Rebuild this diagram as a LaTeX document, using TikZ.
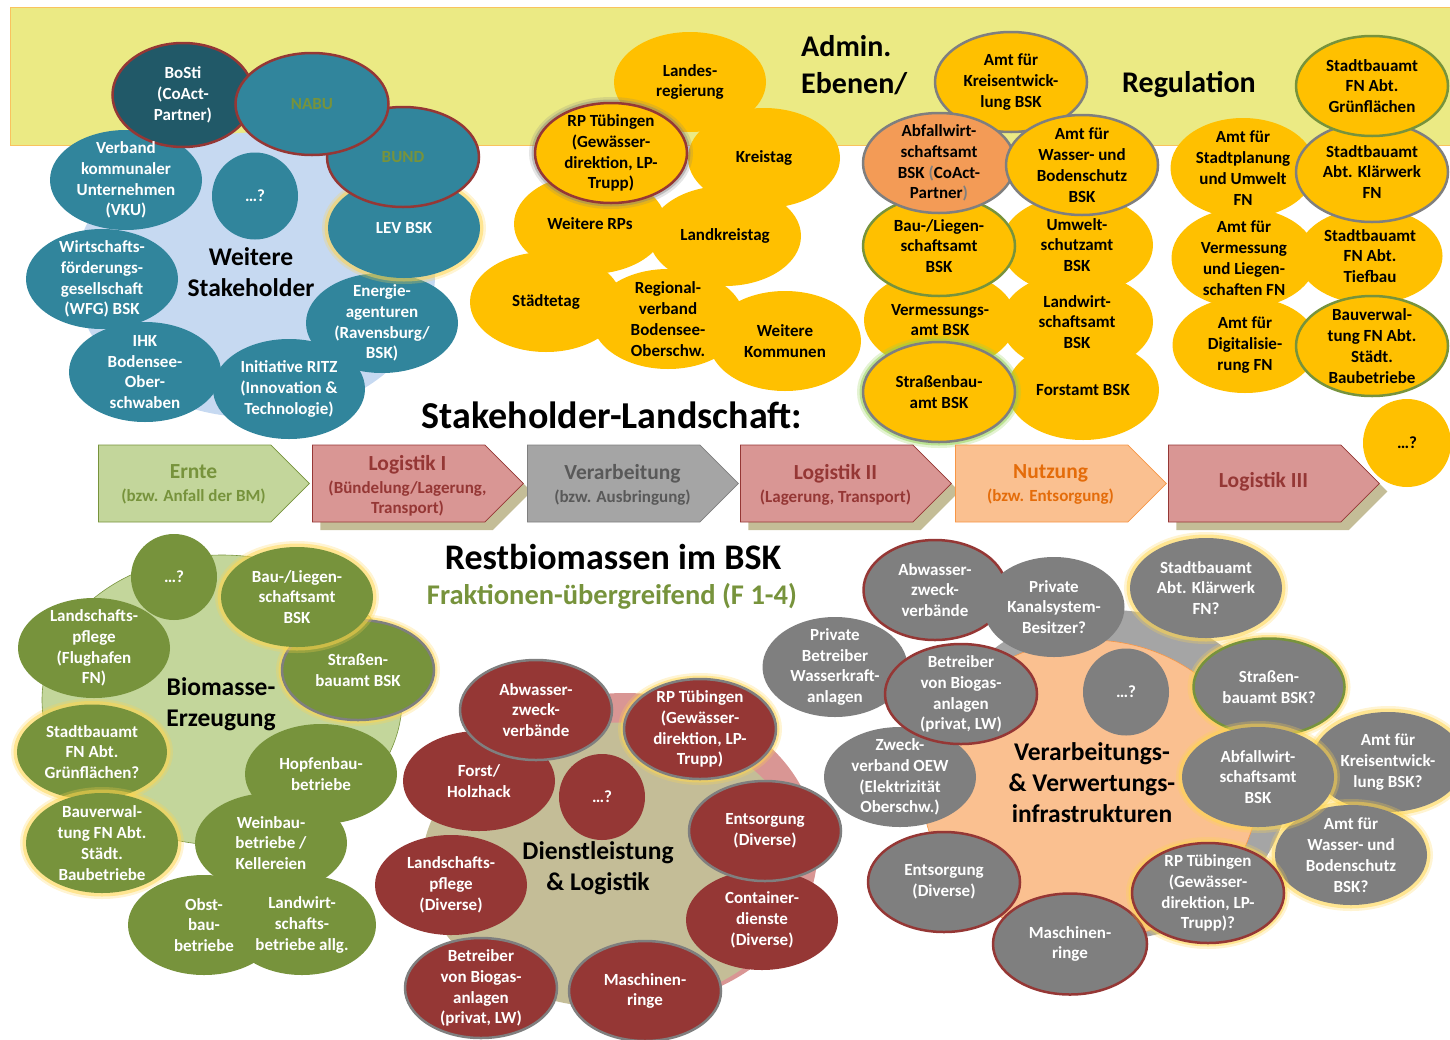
\documentclass[tikz,border=0pt]{standalone}
\usepackage{fontspec}
\setmainfont{Carlito}
\usetikzlibrary{shapes.geometric,shapes.symbols,shadows}

\definecolor{bandyel}{HTML}{EBEA84}
\definecolor{bandline}{HTML}{F9C35E}
\definecolor{tealf}{HTML}{31859C}
\definecolor{tealdk}{HTML}{215968}
\definecolor{redbd}{HTML}{953735}
\definecolor{goldf}{HTML}{FFC000}
\definecolor{orangef}{HTML}{F39B56}
\definecolor{olive}{HTML}{77933C}
\definecolor{lgreen}{HTML}{C3D69B}
\definecolor{grayf}{HTML}{7F7F7F}
\definecolor{lgray}{HTML}{A5A5A5}
\definecolor{lblue}{HTML}{C6D9F1}
\definecolor{tanf}{HTML}{C4BD97}
\definecolor{pinkf}{HTML}{D99694}
\definecolor{lorange}{HTML}{FAC090}
\definecolor{orangebd}{HTML}{F79646}
\definecolor{darkorange}{HTML}{E46C0A}
\definecolor{dgray}{HTML}{595959}
\definecolor{glowy}{HTML}{FFD54F}
\definecolor{glowg}{HTML}{92D050}

\pgfdeclarelayer{txt}
\pgfsetlayers{main,txt}

\newcommand{\bubfont}{\fontsize{17}{20.8}\selectfont\bfseries}
\newcommand{\chhd}[1]{{\fontsize{21.5}{24}\selectfont #1}}
% Blase: Ellipse + Text darueber
\newcommand{\bub}[5]{%
  \node[#1] (#2) at (#3) {};
  \begin{pgfonlayer}{txt}
    \node[#4] (#2t) at (#2.center) {#5};
  \end{pgfonlayer}
}

\tikzset{
  bubble/.style={ellipse, minimum width=152pt, minimum height=100pt, inner sep=0pt},
  bsz/.style 2 args={minimum width=#1pt, minimum height=#2pt},
  tealbub/.style={bubble, fill=tealf},
  goldbub/.style={bubble, fill=goldf},
  greenbub/.style={bubble, fill=olive},
  redbub/.style={bubble, fill=redbd},
  graybub/.style={bubble, fill=grayf},
  rbd/.style={draw=redbd, line width=2.5pt},
  gbd/.style={draw=grayf, line width=2.5pt},
  obd/.style={draw=olive, line width=2.5pt},
  glowyl/.style={preaction={draw=glowy, line width=12pt, draw opacity=.25},
                 preaction={draw=glowy, line width=7pt, draw opacity=.5}},
  glowgn/.style={preaction={draw=glowg, line width=12pt, draw opacity=.25},
                 preaction={draw=glowg, line width=7pt, draw opacity=.5}},
  glowgr/.style={preaction={draw=grayf, line width=12pt, draw opacity=.2},
                 preaction={draw=grayf, line width=7pt, draw opacity=.4}},
  bt/.style={align=center, inner sep=0pt, font=\bubfont},
  wt/.style={bt, text=white},
  ot/.style={bt, text=olive},
  clustertxt/.style={align=center, inner sep=0pt, font=\fontsize{25.5}{31}\selectfont\bfseries},
  headtxt/.style={inner sep=0pt, font=\fontsize{30}{36}\selectfont\bfseries},
  titletxt/.style={inner sep=0pt, font=\fontsize{36}{42}\selectfont\bfseries},
  chev/.style={signal, signal to=east, signal pointer angle=90, minimum width=211pt,
               minimum height=77pt, inner sep=0pt, line width=0.8pt, anchor=west},
  chsh/.style={drop shadow={shadow xshift=8pt, shadow yshift=-8pt, fill=tanf, opacity=1}},
  chtxt/.style={align=center, inner sep=0pt, font=\fontsize{17}{20}\selectfont\bfseries},
}

\begin{document}
\begin{tikzpicture}[x=1pt, y=-1pt]
\useasboundingbox (0,0) rectangle (1450,1039);

% Band Admin./Regulation
\draw[bandline, fill=bandyel, line width=1pt] (10,7) rectangle (1460,145);
\node[headtxt, anchor=west] (admin) at (801,46) {Admin.};
\node[headtxt, anchor=west] (ebenen) at (801,84) {Ebenen/};
\node[headtxt, anchor=west] (regul) at (1122,84) {Regulation};

% Weitere Stakeholder
\node[ellipse, fill=lblue, minimum width=360pt, minimum height=285pt] (wsbg) at (255,275) {};
\bub{tealbub}{vku}{126,180}{wt}{Verband\\kommunaler\\Unternehmen\\(VKU)}
\bub{tealbub}{wfg}{102,279}{wt}{Wirtschafts-\\förderungs-\\gesellschaft\\(WFG) BSK}
\bub{tealbub}{ihk}{145,372}{wt}{IHK\\Bodensee-\\Ober-\\schwaben}
\bub{tealbub}{energie}{382,323}{wt}{Energie-\\agenturen\\(Ravensburg/\\BSK)}
\bub{tealbub}{ritz}{289,389}{wt}{Initiative RITZ\\(Innovation \&\\Technologie)}
\bub{tealbub, bsz={86}{87}}{wsq}{255,196}{wt}{…?}
\bub{tealbub, glowyl}{lev}{404,228}{wt}{LEV BSK}
\bub{tealbub, rbd}{bund}{403,157}{ot}{BUND}
\bub{tealbub, rbd, fill=tealdk, bsz={141}{104}}{bosti}{183,95}{wt}{BoSti\\(CoAct-\\Partner)}
\bub{tealbub, rbd, bsz={153}{102}}{nabu}{312,104}{ot}{NABU}
\node[clustertxt] (wstxt) at (251,272) {Weitere\\Stakeholder};

% Land, Kreis, Kommunen
\bub{goldbub}{landes}{690,82}{bt}{Landes-\\regierung}
\bub{goldbub}{kreistag}{764,158}{bt}{Kreistag}
\bub{goldbub}{wrps}{590,224}{bt}{Weitere RPs}
\bub{goldbub}{lkt}{725,236}{bt}{Landkreistag}
\bub{goldbub}{staedte}{546,302}{bt}{Städtetag}
\bub{goldbub}{regio}{668,319}{bt}{Regional-\\verband\\Bodensee-\\Oberschw.}
\bub{goldbub}{wkomm}{785,341}{bt}{Weitere\\Kommunen}
\bub{goldbub, rbd, glowgr}{rptop}{611,153}{bt}{RP Tübingen\\(Gewässer-\\direktion, LP-\\Trupp)}

% Aemter BSK
\bub{goldbub, gbd}{kreisentw}{1011,82}{bt}{Amt für\\Kreisentwick-\\lung BSK}
\bub{goldbub}{umwelt}{1077,245}{bt}{Umwelt-\\schutzamt\\BSK}
\bub{goldbub}{verm}{940,320}{bt}{Vermessungs-\\amt BSK}
\bub{goldbub}{landw}{1077,322}{bt}{Landwirt-\\schaftsamt\\BSK}
\bub{goldbub}{forstamt}{1083,390}{bt}{Forstamt BSK}
\bub{goldbub, gbd, glowgn}{strbau}{939,392}{bt}{Straßenbau-\\amt BSK}
\bub{goldbub, obd}{baulieg}{939,246}{bt}{Bau-/Liegen-\\schaftsamt\\BSK}
\bub{goldbub, gbd, fill=orangef}{abfall}{939,163}{bt}{Abfallwirt-\\schaftsamt\\BSK {\color{grayf}(}CoAct-\\Partner{\color{grayf})}}
\bub{goldbub, gbd}{wasser}{1082,165}{bt}{Amt für\\Wasser- und\\Bodenschutz\\BSK}

% Aemter FN
\bub{goldbub, bsz={145}{100}}{stadtpl}{1243,168}{bt}{Amt für\\Stadtplanung\\und Umwelt\\FN}
\bub{goldbub, bsz={145}{100}}{vermfn}{1244,258}{bt}{Amt für\\Vermessung\\und Liegen-\\schaften FN}
\bub{goldbub, bsz={145}{96}}{digi}{1245,345}{bt}{Amt für\\Digitalisie-\\rung FN}
\bub{goldbub, bsz={145}{96}}{tiefbau}{1370,256}{bt}{Stadtbauamt\\FN Abt.\\Tiefbau}
\bub{goldbub, gbd}{klaer}{1372,172}{bt}{Stadtbauamt\\Abt. Klärwerk\\FN}
\bub{goldbub, obd}{bauverw}{1372,346}{bt}{Bauverwal-\\tung FN Abt.\\Städt.\\Baubetriebe}
\bub{goldbub, obd}{gruen}{1372,86}{bt}{Stadtbauamt\\FN Abt.\\Grünflächen}
\bub{goldbub, bsz={88}{88}}{rq}{1407,443}{bt}{…?}

\node[titletxt, font=\fontsize{38}{44}\selectfont\bfseries] (title1) at (612,415) {Stakeholder-Landschaft:};

% Prozesskette
\node[chev, fill=lgreen, draw=olive] (ernte) at (98,483.5) {};
\node[chev, chsh, fill=pinkf, draw=redbd] (log1) at (312,483.5) {};
\node[chev, fill=lgray, draw=grayf] (verarb) at (527,483.5) {};
\node[chev, chsh, fill=pinkf, draw=redbd] (log2) at (740,483.5) {};
\node[chev, fill=lorange, draw=orangebd] (nutz) at (955,483.5) {};
\node[chev, chsh, fill=pinkf, draw=redbd] (log3) at (1168,483.5) {};
\node[chtxt, text=olive] (erntet) at (193.5,484.5) {\chhd{Ernte}\\[3pt](bzw. Anfall der BM)};
\node[chtxt, text=redbd] (log1t) at (407.5,486) {\chhd{Logistik I}\\[3pt](Bündelung/Lagerung,\\Transport)};
\node[chtxt, text=dgray] (verarbt) at (622.5,484.5) {\chhd{Verarbeitung}\\[3pt](bzw. Ausbringung)};
\node[chtxt, text=redbd] (log2t) at (835.5,485) {\chhd{Logistik II}\\[3pt](Lagerung, Transport)};
\node[chtxt, text=darkorange] (nutzt) at (1050.5,484.5) {\chhd{Nutzung}\\[3pt](bzw. Entsorgung)};
\node[chtxt, text=redbd] (log3t) at (1263.5,482) {\chhd{Logistik III}};

\node[titletxt] (title2) at (613,557) {Restbiomassen im BSK};
\node[headtxt, text=olive, font=\fontsize{28.5}{34}\selectfont\bfseries] (title3) at (612,596) {Fraktionen-übergreifend (F 1-4)};

% Biomasse-Erzeugung
\node[ellipse, fill=lgreen, draw=olive, line width=.6pt, minimum width=360pt, minimum height=290pt] (bebg) at (222,700) {};
\bub{greenbub, bsz={86}{86}}{gq}{174,577}{wt}{…?}
\bub{greenbub}{lpfl1}{94,648}{wt}{Landschafts-\\pflege\\(Flughafen\\FN)}
\bub{greenbub, glowyl, bsz={150}{95}}{sbgr}{92,752}{wt}{Stadtbauamt\\FN Abt.\\Grünflächen?}
\bub{greenbub, glowyl}{bvgr}{102,843}{wt}{Bauverwal-\\tung FN Abt.\\Städt.\\Baubetriebe}
\bub{greenbub, gbd, glowyl}{strgr}{358,670}{wt}{Straßen-\\bauamt BSK}
\bub{greenbub, glowyl}{baugr}{297,597}{wt}{Bau-/Liegen-\\schaftsamt\\BSK}
\bub{greenbub}{hopfen}{321,774}{wt}{Hopfenbau-\\betriebe}
\bub{greenbub}{wein}{271,843}{wt}{Weinbau-\\betriebe /\\Kellereien}
\bub{greenbub}{obst}{204,925}{wt}{Obst-\\bau-\\betriebe}
\bub{greenbub, bsz={148}{100}}{lwb}{302,925}{wt}{Landwirt-\\schafts-\\betriebe allg.}
\node[clustertxt] (betxt) at (221,704) {Biomasse-\\Erzeugung};

% Dienstleistung & Logistik
\node[ellipse, fill=pinkf, minimum width=385pt, minimum height=314pt] (dlbg1) at (625,850) {};
\node[ellipse, fill=tanf, minimum width=380pt, minimum height=285pt] (dlbg2) at (612,865) {};
\bub{redbub}{forst2}{479,781}{wt}{Forst/\\Holzhack}
\bub{redbub, gbd}{abw2}{536,710}{wt}{Abwasser-\\zweck-\\verbände}
\bub{redbub, bsz={86}{86}}{dq}{602,797}{wt}{…?}
\bub{redbub, gbd, glowyl}{rp2}{700,729}{wt}{RP Tübingen\\(Gewässer-\\direktion, LP-\\Trupp)}
\bub{redbub}{cont}{762,920}{wt}{Container-\\dienste\\(Diverse)}
\bub{redbub, gbd}{ents2}{765,831}{wt}{Entsorgung\\(Diverse)}
\bub{redbub}{lpfl2}{451,885}{wt}{Landschafts-\\pflege\\(Diverse)}
\bub{redbub, gbd}{biog2}{481,988}{wt}{Betreiber\\von Biogas-\\anlagen\\(privat, LW)}
\bub{redbub, gbd}{masch2}{645,991}{wt}{Maschinen-\\ringe}
\node[clustertxt] (dltxt) at (598,868) {Dienstleistung\\\& Logistik};

% Verarbeitungs- & Verwertungsinfrastrukturen
\node[ellipse, fill=lgray, minimum width=360pt, minimum height=330pt] (vvbg1) at (1110,775) {};
\node[ellipse, fill=lorange, draw=orangebd, line width=.6pt, minimum width=335pt, minimum height=300pt] (vvbg2) at (1090,790) {};
\bub{graybub, bsz={145}{100}}{wkraft}{835,667}{wt}{Private\\Betreiber\\Wasserkraft-\\anlagen}
\bub{graybub, rbd, bsz={143}{100}}{abw3}{935,590}{wt}{Abwasser-\\zweck-\\verbände}
\bub{graybub, bsz={141}{100}}{kanal}{1054,607}{wt}{Private\\Kanalsystem-\\Besitzer?}
\bub{graybub, glowyl}{klaer3}{1206,588}{wt}{Stadtbauamt\\Abt. Klärwerk\\FN?}
\bub{graybub}{oew}{900,777}{wt}{Zweck-\\verband OEW\\(Elektrizität\\Oberschw.)}
\bub{graybub, rbd}{biog3}{961,694}{wt}{Betreiber\\von Biogas-\\anlagen\\(privat, LW)}
\bub{graybub, bsz={86}{87}}{vq}{1126,692}{wt}{…?}
\bub{graybub, obd, glowyl, bsz={151}{97}}{str3}{1269,687}{wt}{Straßen-\\bauamt BSK?}
\bub{graybub, glowyl}{kreis3}{1388,762}{wt}{Amt für\\Kreisentwick-\\lung BSK?}
\bub{graybub, glowyl}{wass3}{1351,855}{wt}{Amt für\\Wasser- und\\Bodenschutz\\BSK?}
\bub{graybub, glowyl}{abf3}{1258,777}{wt}{Abfallwirt-\\schaftsamt\\BSK}
\bub{graybub, rbd}{ents3}{944,882}{wt}{Entsorgung\\(Diverse)}
\bub{graybub, rbd, bsz={154}{101}}{masch3}{1070,944}{wt}{Maschinen-\\ringe}
\bub{graybub, rbd, glowyl}{rp3}{1208,893}{wt}{RP Tübingen\\(Gewässer-\\direktion, LP-\\Trupp)?}
\node[clustertxt] (vvtxt) at (1092,783) {Verarbeitungs-\\\& Verwertungs-\\infrastrukturen};
\end{tikzpicture}
\end{document}
